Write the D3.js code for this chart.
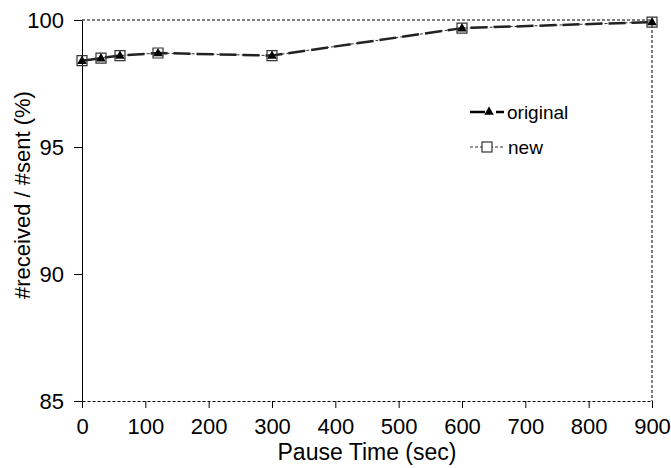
<!DOCTYPE html>
<html>
<head>
<meta charset="utf-8">
<script src="https://cdn.jsdelivr.net/npm/d3@7"></script>
<style>
  body { margin: 0; background: #fff; }
  text { font-family: "Liberation Sans", Arial, sans-serif; fill: #000; }
</style>
</head>
<body>
<svg id="chart" width="671" height="468"></svg>
<script>
var pauseTimes = [0, 30, 60, 120, 300, 600, 900];
var originalValues = [98.4, 98.5, 98.6, 98.7, 98.6, 99.68, 99.92];
var newValues = [98.4, 98.5, 98.6, 98.7, 98.6, 99.68, 99.92];
var xTicks = [0, 100, 200, 300, 400, 500, 600, 700, 800, 900];
var yTicks = [85, 90, 95, 100];

var svg = d3.select("svg#chart");

var margin = {top: 20, right: 19, bottom: 67, left: 82},
    width = 671,
    height = 468;

var x = d3.scaleLinear().domain([0, 900]).range([margin.left, width - margin.right]);
var y = d3.scaleLinear().domain([85, 100]).range([height - margin.bottom, margin.top]);

// frame: top and right are dashed
svg.append("line")
   .attr("x1", x(0)).attr("x2", x(900))
   .attr("y1", y(100)).attr("y2", y(100))
   .attr("stroke", "#000").attr("stroke-width", 1)
   .attr("stroke-dasharray", "3,2");
svg.append("line")
   .attr("x1", x(900)).attr("x2", x(900))
   .attr("y1", y(100)).attr("y2", y(85))
   .attr("stroke", "#000").attr("stroke-width", 1)
   .attr("stroke-dasharray", "3,2");

var xAxis = svg.append("g")
   .attr("transform", "translate(0," + y(85) + ")")
   .call(d3.axisBottom(x).tickValues(xTicks).tickSize(7).tickSizeOuter(0).tickPadding(10));
xAxis.select(".domain").attr("stroke-dasharray", "3,2");
xAxis.selectAll("text").style("font-size", "22px");

var yAxis = svg.append("g")
   .attr("transform", "translate(" + x(0) + ",0)")
   .call(d3.axisLeft(y).tickValues(yTicks).tickSize(8).tickSizeOuter(0).tickPadding(10));
yAxis.selectAll("text").style("font-size", "22px");

svg.selectAll(".domain, .tick line").attr("stroke", "#000");

svg.append("text")
   .attr("x", 367).attr("y", 460)
   .attr("text-anchor", "middle")
   .style("font-size", "23px")
   .text("Pause Time (sec)");

svg.append("text")
   .attr("transform", "translate(30,195) rotate(-90)")
   .attr("text-anchor", "middle")
   .style("font-size", "22px")
   .text("#received / #sent (%)");

var line = d3.line()
   .x(function(d) { return x(d[0]); })
   .y(function(d) { return y(d[1]); });

var newPts = pauseTimes.map(function(t, i) { return [t, newValues[i]]; });
var origPts = pauseTimes.map(function(t, i) { return [t, originalValues[i]]; });

svg.append("path")
   .datum(newPts)
   .attr("d", line)
   .attr("fill", "none")
   .attr("stroke", "#333")
   .attr("stroke-width", 1)
   .attr("stroke-dasharray", "3,2");

svg.append("path")
   .datum(origPts)
   .attr("d", line)
   .attr("fill", "none")
   .attr("stroke", "#222")
   .attr("stroke-width", 2.5)
   .attr("stroke-dasharray", "17,6");

var square = d3.symbol().type(d3.symbolSquare).size(100);
var triangle = d3.symbol().type(d3.symbolTriangle).size(40);

svg.append("g").selectAll("path")
   .data(newPts)
   .enter().append("path")
   .attr("d", square)
   .attr("transform", function(d) { return "translate(" + x(d[0]) + "," + y(d[1]) + ")"; })
   .attr("fill", "none")
   .attr("stroke", "#333")
   .attr("stroke-width", 1.2);

svg.append("g").selectAll("path")
   .data(origPts)
   .enter().append("path")
   .attr("d", triangle)
   .attr("transform", function(d) { return "translate(" + x(d[0]) + "," + (y(d[1]) + 0.5) + ")"; })
   .attr("fill", "#000");

// legend
var legend = svg.append("g");
legend.append("line")
   .attr("x1", 470).attr("x2", 485).attr("y1", 112).attr("y2", 112)
   .attr("stroke", "#000").attr("stroke-width", 2.5);
legend.append("line")
   .attr("x1", 496).attr("x2", 504).attr("y1", 112).attr("y2", 112)
   .attr("stroke", "#000").attr("stroke-width", 2.5);
legend.append("path")
   .attr("d", triangle)
   .attr("transform", "translate(489,112)")
   .attr("fill", "#000");
legend.append("text")
   .attr("x", 507).attr("y", 119)
   .style("font-size", "19px")
   .text("original");

legend.append("line")
   .attr("x1", 470).attr("x2", 504).attr("y1", 147).attr("y2", 147)
   .attr("stroke", "#333").attr("stroke-width", 1.2)
   .attr("stroke-dasharray", "3,2");
legend.append("rect")
   .attr("x", 482).attr("y", 142).attr("width", 10).attr("height", 10)
   .attr("fill", "#fff").attr("stroke", "#333").attr("stroke-width", 1.2);
legend.append("text")
   .attr("x", 508).attr("y", 154)
   .style("font-size", "19px")
   .text("new");
</script>
</body>
</html>
